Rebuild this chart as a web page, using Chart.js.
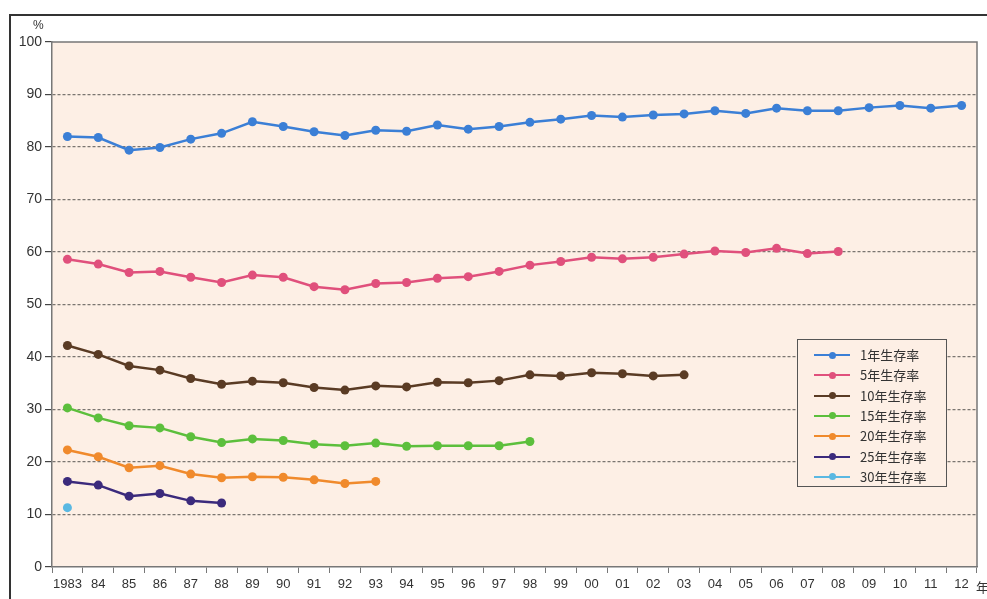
<!DOCTYPE html>
<html><head><meta charset="utf-8">
<script src="https://cdn.jsdelivr.net/npm/chart.js@4"></script>
<style>
html,body{margin:0;padding:0;background:#fff;width:987px;height:599px;overflow:hidden;font-family:"Liberation Sans",Arial,sans-serif;}
#wrap{position:absolute;left:0;top:0;width:987px;height:599px;}
#frame{position:absolute;left:9px;top:14px;width:990px;height:600px;border-left:2px solid #333;border-top:2px solid #333;}
#pct{position:absolute;left:33px;top:18px;font-size:12px;color:#333;}
#nen{position:absolute;left:976px;top:577px;font-size:13px;color:#333;font-family:"Noto Sans CJK JP",sans-serif;}
#legend{position:absolute;left:797px;top:339px;width:150px;height:148px;border:1.5px solid #555;background:#fdefe5;box-sizing:border-box;}
.row{position:absolute;left:16px;height:20px;font-family:"Noto Sans CJK JP",sans-serif;font-size:13px;color:#333;line-height:20px;white-space:nowrap;}
.ln{position:absolute;left:0;top:9px;width:36px;height:2px;}
.dot{position:absolute;left:15px;top:-2.5px;width:7px;height:7px;border-radius:50%;}
.tx{position:absolute;left:46px;top:0;}
</style></head>
<body><div id="wrap">
<div id="frame"></div>
<canvas id="c" width="987" height="599"></canvas>
<div id="pct">%</div>
<div id="nen">年</div>
<div id="legend"></div>
</div>
<script>
const years = ['1983','84','85','86','87','88','89','90','91','92','93','94','95','96','97','98','99','00','01','02','03','04','05','06','07','08','09','10','11','12'];
const seriesNames = ['1年生存率','5年生存率','10年生存率','15年生存率','20年生存率','25年生存率','30年生存率'];
const seriesColors = ['#3b7fd6','#e0507c','#5a3b24','#5cbf3c','#f08a2c','#3b2a7c','#5ab8e2'];
const surv1 = [82.0,81.8,79.4,79.9,81.5,82.6,84.8,83.9,82.9,82.2,83.2,83.0,84.2,83.4,83.9,84.7,85.3,86.0,85.7,86.1,86.3,86.9,86.4,87.4,86.9,86.9,87.5,87.9,87.4,87.9];
const surv5 = [58.6,57.7,56.1,56.3,55.2,54.2,55.6,55.2,53.4,52.8,54.0,54.2,55.0,55.3,56.3,57.5,58.2,59.0,58.7,59.0,59.6,60.2,59.9,60.7,59.7,60.1];
const surv10 = [42.2,40.5,38.3,37.5,35.9,34.8,35.4,35.1,34.2,33.7,34.5,34.3,35.2,35.1,35.5,36.6,36.4,37.0,36.8,36.4,36.6];
const surv15 = [30.3,28.4,26.9,26.5,24.8,23.7,24.4,24.1,23.4,23.1,23.6,23.0,23.1,23.1,23.1,23.9];
const surv20 = [22.3,21.0,18.9,19.3,17.7,17.0,17.2,17.1,16.6,15.9,16.3];
const surv25 = [16.3,15.6,13.5,14.0,12.6,12.2];
const surv30 = [11.3];
const yTicks = [0,10,20,30,40,50,60,70,80,90,100];

const allData = [surv1,surv5,surv10,surv15,surv20,surv25,surv30];
const datasets = allData.map((d,i)=>({
  label: seriesNames[i], data: d,
  borderColor: seriesColors[i], backgroundColor: seriesColors[i],
  pointBackgroundColor: seriesColors[i], pointBorderColor: seriesColors[i],
  borderWidth: 2.5, pointRadius: 4.5, pointBorderWidth: 0, tension: 0
}));

const lg = document.getElementById('legend');
seriesNames.forEach((n,i)=>{
  const r = document.createElement('div');
  r.className='row'; r.style.top = (5 + i*20.3) + 'px';
  r.innerHTML = '<span class="ln" style="background:'+seriesColors[i]+'"><span class="dot" style="background:'+seriesColors[i]+'"></span></span><span class="tx">'+n+'</span>';
  lg.appendChild(r);
});

const bgPlugin = {
  id:'bg',
  beforeDraw(chart){
    const {ctx, chartArea:a} = chart;
    ctx.save(); ctx.fillStyle='#fdefe5'; ctx.fillRect(a.left,a.top,a.right-a.left,a.bottom-a.top); ctx.restore();
  },
  afterDraw(chart){
    const {ctx, chartArea:a} = chart;
    ctx.save(); ctx.strokeStyle='#777'; ctx.lineWidth=1.5;
    ctx.beginPath(); ctx.moveTo(a.left,a.top); ctx.lineTo(a.right,a.top); ctx.lineTo(a.right,a.bottom); ctx.stroke();
    ctx.restore();
  }
};

new Chart(document.getElementById('c'), {
  type:'line',
  data:{labels:years, datasets},
  plugins:[bgPlugin],
  options:{
    responsive:false, animation:false, events:[],
    layout:{padding:{left:0,right:10,top:42,bottom:0}},
    plugins:{legend:{display:false}, tooltip:{enabled:false}},
    scales:{
      x:{
        offset:true,
        grid:{drawOnChartArea:false, drawTicks:true, tickLength:6, offset:true, color:'#777'},
        border:{color:'#777', width:1.5},
        ticks:{color:'#333', font:{size:13, family:'"Liberation Sans", Arial, sans-serif'}, padding:4, maxRotation:0, autoSkip:false},
        afterFit(s){ s.height = 32; }
      },
      y:{
        min:0, max:100,
        afterBuildTicks(s){ s.ticks = yTicks.map(v=>({value:v})); },
        grid:{
          color:(c)=> (c.tick && (c.tick.value===0 || c.tick.value===100)) ? 'rgba(0,0,0,0)' : '#7a7570',
          lineWidth:1.2, drawTicks:true, tickLength:7, tickColor:'#444', tickBorderDash:[]
        },
        border:{color:'#777', width:1.5, dash:[3,2]},
        ticks:{color:'#333', font:{size:14, family:'"Liberation Sans", Arial, sans-serif'}, padding:3},
        afterFit(s){ s.width = 52; }
      }
    }
  }
});
</script>
</body></html>
